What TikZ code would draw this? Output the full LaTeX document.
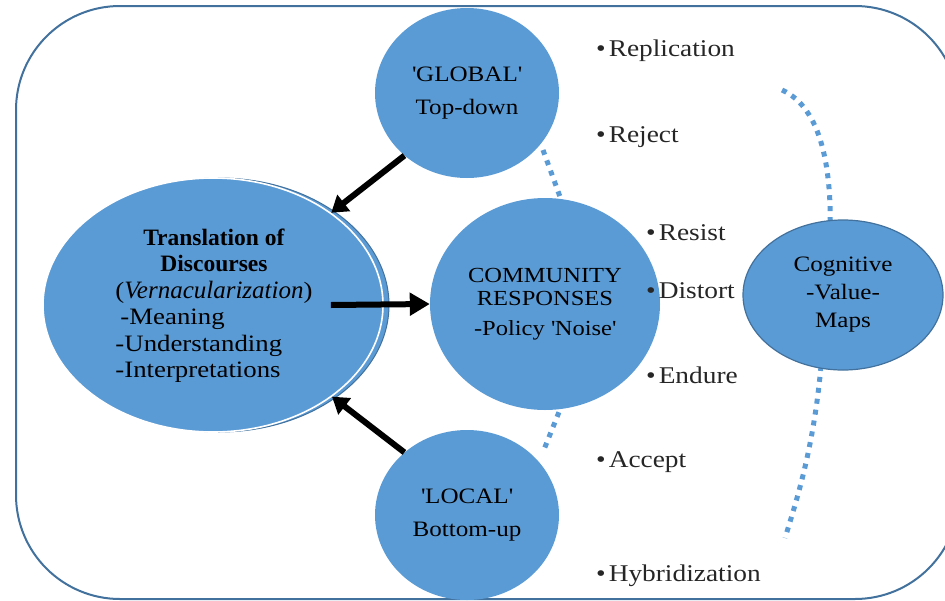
\documentclass[tikz,border=0pt]{standalone}
\usepackage{fontspec}
\setmainfont{Liberation Serif}
\newfontfamily\wide{Liberation Serif}[FakeStretch=1.14]
\usetikzlibrary{shapes.geometric,arrows.meta,calc}
\definecolor{bfill}{HTML}{5B9BD5}
\definecolor{bline}{HTML}{41719C}
\tikzset{
  blob/.style={ellipse,fill=bfill,inner sep=0pt,align=center,text=black},
  tarrow/.style={line width=6pt,black,-{Triangle[length=16pt,width=20pt]}},
  dots/.style={bfill,line width=5pt,dash pattern=on 5pt off 6pt},
  item/.style={anchor=base west,inner sep=0pt,font=\wide\fontsize{24}{28}\selectfont,text=black!85},
}
\newcommand{\qs}{\textquotesingle}
\begin{document}
\begin{tikzpicture}[x=1pt,y=-1pt]
\useasboundingbox (0,0) rectangle (945,600);
\draw[bline,line width=2pt,rounded corners=104pt] (16,6) rectangle (959,599);

% dotted lines (behind ellipses)
\draw[dots] (543,150) -- (563,205);
\draw[dots] (563,402) -- (543,452);
\draw[dots] (782,90) .. controls (822,108) and (832,170) .. (830,235);
\draw[dots] (822,355) .. controls (815,440) and (800,490) .. (785,538);

% ellipses
\node[blob,minimum width=184pt,minimum height=170pt,font=\wide\fontsize{22}{33}\selectfont] (gl) at (467,93) {\qs GLOBAL\qs\\Top-down};
\node[blob,minimum width=184pt,minimum height=170pt,font=\wide\fontsize{22}{33}\selectfont] (lo) at (467,515) {\qs LOCAL\qs\\Bottom-up};
\node[blob,minimum width=230pt,minimum height=212pt,font=\wide\fontsize{21.5}{23}\selectfont] (cr) at (545,304) {COMMUNITY\\RESPONSES\\[7pt]-Policy \qs Noise\qs};
\node[blob,draw=bline,line width=1.2pt,minimum width=200pt,minimum height=150pt,font=\wide\fontsize{22}{28}\selectfont] (cg) at (843,295) {Cognitive\\-Value-\\Maps};
\node[blob,draw=bline,line width=1pt,minimum width=340pt,minimum height=254pt] (trb) at (219,305) {};
\node[blob,draw=white,line width=1.6pt,minimum width=340pt,minimum height=254pt] (tr) at (213,305) {};
\node[inner sep=0pt,font=\wide\fontsize{23.5}{26.5}\selectfont] (trt) at (214,306) {%
\begin{tabular}{@{}l@{}}
\multicolumn{1}{c}{\rmfamily\fontsize{23.5}{24}\selectfont\textbf{Translation of}}\\
\multicolumn{1}{c}{\rmfamily\fontsize{23.5}{24}\selectfont\textbf{Discourses}}\\
(\rmfamily\fontsize{25}{26.5}\selectfont\textit{Vernacularization}\wide\fontsize{23.5}{26.5}\selectfont)\\
\hspace*{5pt}-Meaning\\
-Understanding\\
-Interpretations
\end{tabular}};

% arrows
\draw[tarrow] (gl.225) -- (tr);
\draw[tarrow] (lo.135) -- (tr);
\draw[tarrow,-{Triangle[length=20pt,width=22pt]}] ([xshift=-53pt]tr.east) -- (cr.west);

% bullet items
\node[item] (i1) at (596,56) {\textbullet\hspace{3pt}Replication};
\node[item] (i2) at (596,142) {\textbullet\hspace{3pt}Reject};
\node[item] (i3) at (646,240) {\textbullet\hspace{3pt}Resist};
\node[item] (i4) at (646,298) {\textbullet\hspace{3pt}Distort};
\node[item] (i5) at (646,383) {\textbullet\hspace{3pt}Endure};
\node[item] (i6) at (596,467) {\textbullet\hspace{3pt}Accept};
\node[item] (i7) at (596,581) {\textbullet\hspace{3pt}Hybridization};
\end{tikzpicture}
\end{document}
